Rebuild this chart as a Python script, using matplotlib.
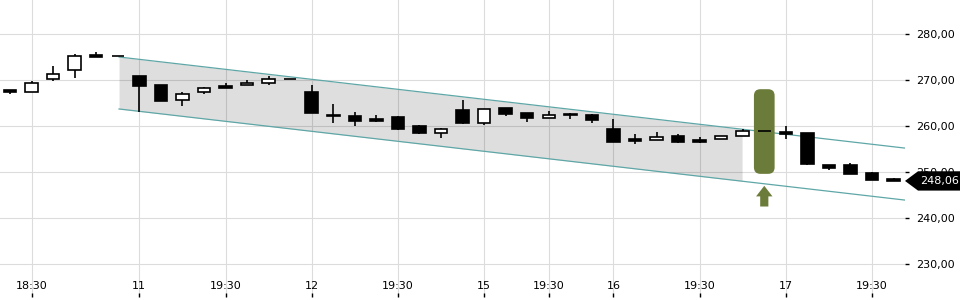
import numpy as np
import matplotlib.pyplot as plt
from matplotlib.patches import Polygon, FancyBboxPatch
from matplotlib.ticker import FuncFormatter
import matplotlib.transforms as mtransforms

# Hourly candles (index = bar number)
opens = [267.8, 267.5, 270.15, 272.1, 275.4, 275.2, 270.9, 268.9, 265.6, 267.3,
         268.7, 268.85, 269.3, 270.15, 267.4, 262.4, 262.2, 261.5, 261.9, 260.0,
         258.55, 263.5, 260.7, 263.85, 262.8, 261.7, 262.6, 262.4, 259.35, 257.2,
         256.9, 257.9, 257.0, 257.1, 257.75, 258.85, 258.75, 258.55, 251.5, 251.45,
         249.8, 248.4]
highs = [267.8, 269.7, 273.0, 275.6, 276.0, 275.2, 270.9, 268.9, 267.4, 268.5,
         269.3, 269.9, 270.9, 270.15, 268.9, 264.8, 263.0, 262.5, 262.2, 260.2,
         259.6, 265.65, 263.6, 263.85, 262.8, 263.25, 262.9, 262.7, 261.45, 258.3,
         258.7, 258.2, 257.7, 257.8, 259.35, 258.85, 260.0, 258.55, 251.5, 252.0,
         250.1, 248.8]
lows = [266.9, 267.5, 269.85, 270.5, 275.1, 275.2, 263.1, 265.5, 264.4, 266.9,
        268.2, 268.85, 269.0, 270.15, 262.8, 260.7, 260.1, 260.9, 259.1, 258.3,
        257.5, 260.5, 260.3, 262.25, 260.9, 261.7, 261.6, 260.7, 256.45, 256.0,
        256.9, 256.4, 256.2, 257.1, 257.75, 258.85, 257.2, 251.6, 250.35, 249.6,
        248.2, 248.06]
closes = [267.5, 269.3, 271.2, 275.2, 275.1, 275.2, 268.8, 265.5, 267.0, 268.2,
          268.3, 269.35, 270.15, 270.15, 262.8, 262.1, 261.15, 261.15, 259.4, 258.55,
          259.35, 260.7, 263.6, 262.7, 261.7, 262.4, 262.3, 261.25, 256.45, 256.7,
          257.6, 256.6, 256.6, 257.8, 258.85, 258.85, 258.3, 251.8, 250.9, 249.6,
          248.2, 248.06]

tick_pos = [1, 6, 10, 14, 18, 22, 25, 28, 32, 36, 40]
tick_labels = ["18:30", "11", "19:30", "12", "19:30", "15", "19:30", "16", "19:30", "17", "19:30"]
price_ticks = [230, 240, 250, 260, 270, 280]

# trend channel
chan_start, chan_end_fill = 5.06, 33.97
chan_upper0, chan_lower0 = 275.0, 263.7
chan_slope = -0.543

# signal marker
signal_idx = 35
signal_low, signal_high = 249.6, 268.0
arrow_tip, arrow_base, arrow_bottom = 247.0, 244.7, 242.5
last_price = closes[-1]

x_left, x_right = -0.464, 41.53
y_bottom, y_top = 222.83, 287.39

fig = plt.figure(figsize=(9.6, 3), dpi=100)
ax = fig.add_axes([0, 0.01, 905 / 960, 0.99])
ax.set_xlim(x_left, x_right)
ax.set_ylim(y_bottom, y_top)

for s in ax.spines.values():
    s.set_visible(False)

ax.set_xticks(tick_pos)
ax.set_xticklabels(tick_labels)
ax.set_yticks(price_ticks)
ax.yaxis.tick_right()
ax.yaxis.set_major_formatter(FuncFormatter(lambda v, p: f"{v:.2f}".replace('.', ',')))
ax.tick_params(axis='y', direction='out', length=3, width=1, pad=5, labelsize=8, colors='black')
ax.tick_params(axis='x', direction='in', length=3, width=1, pad=-11.5, labelsize=8, colors='black')
ax.grid(True, color='#dcdcdc', linewidth=0.8, zorder=0)
ax.set_axisbelow(True)

# channel
cx = np.array([chan_start, x_right])
upper = chan_upper0 + chan_slope * (cx - chan_start)
lower = chan_lower0 + chan_slope * (cx - chan_start)
fx = np.array([chan_start, chan_end_fill])
ax.fill_between(fx, chan_upper0 + chan_slope * (fx - chan_start),
                chan_lower0 + chan_slope * (fx - chan_start),
                color='black', alpha=0.13, linewidth=0, zorder=1)
ax.plot(cx, upper, color='#5fa7a7', lw=0.9, zorder=2)
ax.plot(cx, lower, color='#5fa7a7', lw=0.9, zorder=2)

# signal box and arrow
aspect = (21.55 / 4.6)
box = FancyBboxPatch((signal_idx - 0.48, signal_low), 0.96, signal_high - signal_low,
                     boxstyle="round,pad=0,rounding_size=0.3", mutation_aspect=aspect,
                     facecolor='#6b7c3a', edgecolor='none', zorder=2)
ax.add_patch(box)
arrow = Polygon([(signal_idx, arrow_tip), (signal_idx + 0.38, arrow_base),
                 (signal_idx + 0.19, arrow_base), (signal_idx + 0.19, arrow_bottom),
                 (signal_idx - 0.19, arrow_bottom), (signal_idx - 0.19, arrow_base),
                 (signal_idx - 0.38, arrow_base)], closed=True,
                facecolor='#6b7c3a', edgecolor='none', zorder=2)
ax.add_patch(arrow)

# candles
idx = np.arange(len(opens))
o = np.array(opens); c = np.array(closes)
ax.vlines(idx, lows, highs, color='black', lw=1.2, zorder=3)
bottoms = np.minimum(o, c)
heights = np.abs(c - o)
fills = ['white' if cc >= oo else 'black' for oo, cc in zip(o, c)]
ax.bar(idx, heights, bottom=bottoms, width=0.58, color=fills, edgecolor='black',
       linewidth=1.2, zorder=4)

# last price label
trans = mtransforms.blended_transform_factory(ax.transAxes, ax.transData)
h = 2.1
tag = Polygon([(1.0, last_price), (1.0144, last_price + h), (1.061, last_price + h),
               (1.061, last_price - h), (1.0144, last_price - h)], closed=True,
              transform=trans, facecolor='black', edgecolor='none', clip_on=False, zorder=5)
ax.add_patch(tag)
ax.text(1.038, last_price, f"{last_price:.2f}".replace('.', ','), transform=trans,
        color='white', fontsize=8, ha='center', va='center', zorder=6, clip_on=False)

fig.savefig('out.png', dpi=100)
